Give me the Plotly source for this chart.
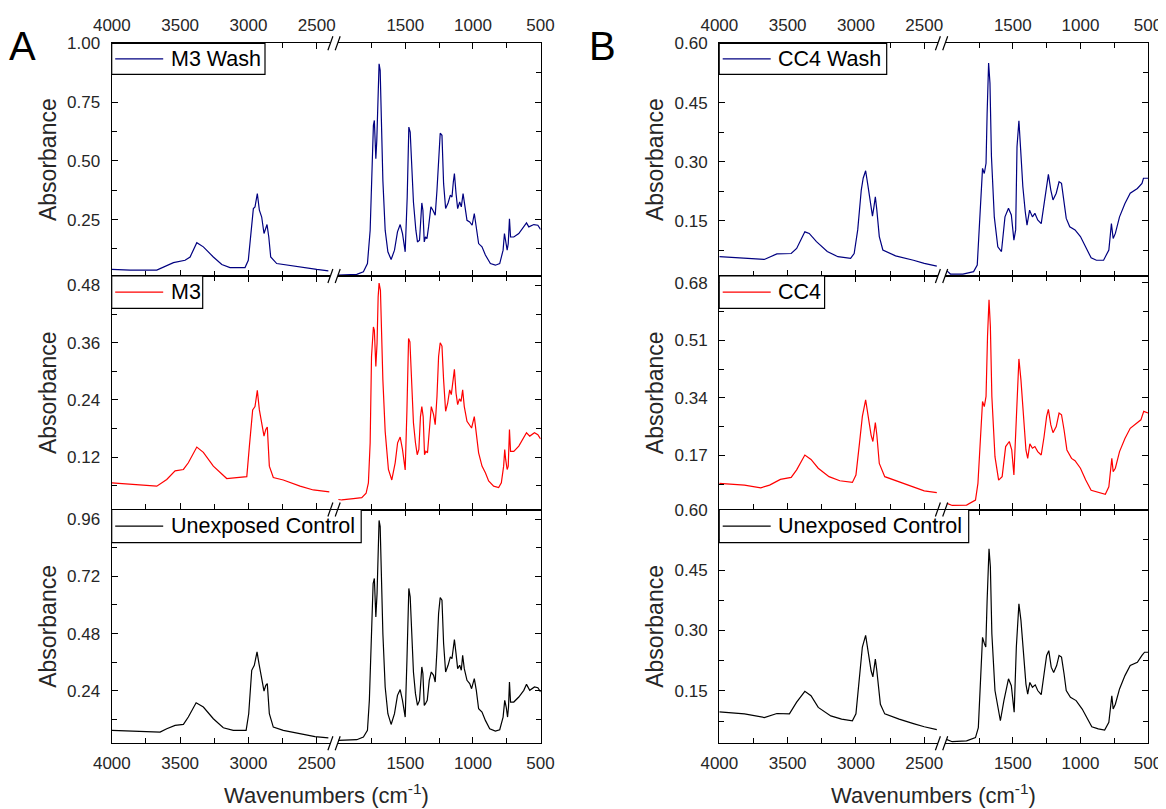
import plotly.graph_objects as go

# page body has an 8px margin; the figure is sized so that it fills the 1166x809 window
BODY = 8
W, H = 1166 - BODY, 809 - BODY

# ---------------- axis definitions (broken wavenumber axis) ----------------
HI_RANGE = [4001, 2400]
LO_RANGE = [2000, 499]
HI_TICKS = [4000, 3500, 3000, 2500]
HI_MINOR = [3750, 3250, 2750]
LO_TICKS = [1500, 1000, 500]
LO_MINOR = [1750, 1250, 750]

# ---------------- data ----------------
# Panel A
m3wash_hi_wn = [4000, 3866, 3671, 3622, 3549, 3464, 3427, 3378, 3330, 3257, 3195, 3135, 3025, 3001, 2983, 2964, 2952, 2935, 2920, 2903, 2886, 2873, 2864, 2851, 2837, 2793, 2696, 2500, 2415]
m3wash_hi_abs = [0.038, 0.035, 0.035, 0.049, 0.067, 0.077, 0.091, 0.152, 0.134, 0.091, 0.059, 0.046, 0.046, 0.077, 0.176, 0.297, 0.304, 0.361, 0.290, 0.261, 0.191, 0.212, 0.229, 0.176, 0.091, 0.063, 0.054, 0.038, 0.032]
m3wash_lo_wn = [1995, 1859, 1810, 1780, 1760, 1746, 1736, 1729, 1718, 1711, 1701, 1694, 1686, 1679, 1666, 1649, 1629, 1605, 1580, 1558, 1538, 1521, 1501, 1486, 1474, 1464, 1451, 1440, 1422, 1410, 1395, 1385, 1378, 1370, 1360, 1351, 1340, 1328, 1311, 1296, 1279, 1266, 1254, 1242, 1229, 1217, 1202, 1184, 1167, 1155, 1145, 1137, 1125, 1113, 1098, 1086, 1073, 1061, 1044, 1024, 1006, 990, 975, 958, 933, 908, 871, 834, 802, 777, 767, 760, 747, 739, 730, 722, 698, 661, 624, 604, 587, 550, 520, 500]
m3wash_lo_abs = [0.014, 0.017, 0.028, 0.063, 0.205, 0.502, 0.651, 0.672, 0.509, 0.587, 0.842, 0.913, 0.885, 0.672, 0.417, 0.205, 0.113, 0.080, 0.120, 0.198, 0.229, 0.191, 0.113, 0.346, 0.644, 0.623, 0.460, 0.325, 0.205, 0.155, 0.162, 0.261, 0.321, 0.290, 0.155, 0.176, 0.169, 0.219, 0.304, 0.290, 0.269, 0.375, 0.516, 0.618, 0.609, 0.403, 0.297, 0.321, 0.354, 0.346, 0.410, 0.446, 0.361, 0.297, 0.325, 0.304, 0.361, 0.304, 0.247, 0.240, 0.226, 0.276, 0.219, 0.148, 0.134, 0.099, 0.063, 0.056, 0.063, 0.120, 0.191, 0.162, 0.120, 0.148, 0.254, 0.176, 0.176, 0.191, 0.219, 0.236, 0.219, 0.229, 0.226, 0.208]

m3_hi_wn = [4000, 3769, 3671, 3598, 3537, 3476, 3440, 3378, 3330, 3257, 3159, 3086, 3012, 2993, 2969, 2952, 2935, 2920, 2903, 2886, 2873, 2862, 2847, 2818, 2745, 2622, 2525, 2408]
m3_hi_abs = [0.066, 0.061, 0.059, 0.073, 0.091, 0.094, 0.108, 0.141, 0.130, 0.101, 0.075, 0.077, 0.079, 0.143, 0.219, 0.226, 0.260, 0.219, 0.188, 0.164, 0.178, 0.183, 0.101, 0.077, 0.072, 0.059, 0.051, 0.047]
m3_lo_wn = [1995, 1970, 1884, 1822, 1790, 1773, 1760, 1750, 1736, 1729, 1718, 1709, 1701, 1694, 1684, 1677, 1666, 1649, 1625, 1600, 1575, 1557, 1538, 1521, 1501, 1488, 1476, 1466, 1454, 1440, 1425, 1412, 1400, 1388, 1378, 1368, 1358, 1348, 1336, 1321, 1308, 1291, 1279, 1266, 1254, 1242, 1229, 1217, 1202, 1187, 1172, 1160, 1147, 1137, 1125, 1113, 1100, 1088, 1076, 1064, 1044, 1024, 1010, 990, 975, 958, 933, 908, 884, 847, 810, 790, 773, 765, 758, 747, 739, 730, 722, 698, 661, 624, 604, 580, 545, 520, 500]
m3_lo_abs = [0.031, 0.030, 0.033, 0.035, 0.044, 0.066, 0.150, 0.331, 0.393, 0.386, 0.310, 0.359, 0.456, 0.485, 0.470, 0.373, 0.282, 0.174, 0.094, 0.072, 0.108, 0.150, 0.162, 0.136, 0.093, 0.219, 0.369, 0.362, 0.282, 0.192, 0.150, 0.125, 0.136, 0.205, 0.226, 0.205, 0.125, 0.132, 0.129, 0.192, 0.226, 0.209, 0.188, 0.247, 0.331, 0.360, 0.353, 0.282, 0.216, 0.233, 0.261, 0.251, 0.282, 0.304, 0.254, 0.230, 0.242, 0.237, 0.261, 0.226, 0.195, 0.188, 0.181, 0.205, 0.171, 0.129, 0.101, 0.087, 0.070, 0.059, 0.056, 0.066, 0.101, 0.136, 0.115, 0.094, 0.101, 0.178, 0.132, 0.132, 0.143, 0.160, 0.171, 0.164, 0.171, 0.167, 0.158]

ctrlA_hi_wn = [4000, 3842, 3647, 3598, 3537, 3476, 3440, 3383, 3330, 3257, 3184, 3111, 3017, 2998, 2976, 2957, 2937, 2923, 2903, 2886, 2873, 2862, 2847, 2818, 2745, 2622, 2513, 2415]
ctrlA_hi_abs = [0.074, 0.070, 0.067, 0.081, 0.095, 0.099, 0.130, 0.190, 0.172, 0.123, 0.085, 0.074, 0.074, 0.144, 0.326, 0.347, 0.403, 0.354, 0.284, 0.239, 0.263, 0.270, 0.144, 0.088, 0.074, 0.060, 0.048, 0.043]
ctrlA_lo_wn = [1995, 1859, 1810, 1780, 1766, 1751, 1738, 1729, 1718, 1709, 1701, 1694, 1686, 1679, 1666, 1649, 1629, 1605, 1580, 1558, 1538, 1521, 1501, 1488, 1474, 1464, 1451, 1440, 1425, 1410, 1395, 1385, 1378, 1370, 1360, 1351, 1338, 1323, 1308, 1291, 1279, 1266, 1254, 1242, 1229, 1217, 1202, 1184, 1167, 1155, 1145, 1137, 1125, 1113, 1098, 1086, 1076, 1064, 1044, 1024, 1010, 990, 975, 958, 933, 908, 876, 834, 802, 777, 765, 754, 744, 737, 730, 722, 698, 661, 624, 604, 580, 545, 520, 500]
ctrlA_lo_abs = [0.032, 0.035, 0.046, 0.074, 0.200, 0.480, 0.690, 0.711, 0.550, 0.648, 0.886, 0.954, 0.928, 0.718, 0.480, 0.256, 0.144, 0.099, 0.144, 0.221, 0.245, 0.200, 0.130, 0.368, 0.669, 0.634, 0.452, 0.319, 0.228, 0.179, 0.200, 0.298, 0.340, 0.312, 0.179, 0.186, 0.200, 0.284, 0.319, 0.305, 0.277, 0.410, 0.564, 0.631, 0.620, 0.438, 0.319, 0.347, 0.382, 0.375, 0.424, 0.455, 0.396, 0.333, 0.347, 0.326, 0.389, 0.333, 0.284, 0.270, 0.249, 0.291, 0.242, 0.165, 0.151, 0.116, 0.081, 0.071, 0.077, 0.130, 0.200, 0.172, 0.130, 0.172, 0.277, 0.193, 0.193, 0.214, 0.242, 0.267, 0.242, 0.256, 0.253, 0.235]

# Panel B
cc4wash_hi_wn = [4000, 3842, 3671, 3579, 3474, 3434, 3374, 3342, 3289, 3210, 3132, 3039, 3013, 2987, 2961, 2947, 2929, 2913, 2895, 2879, 2868, 2858, 2847, 2829, 2803, 2710, 2579, 2500, 2408]
cc4wash_hi_abs = [0.059, 0.056, 0.052, 0.066, 0.067, 0.080, 0.122, 0.118, 0.097, 0.072, 0.059, 0.055, 0.067, 0.127, 0.228, 0.258, 0.277, 0.241, 0.194, 0.162, 0.186, 0.211, 0.177, 0.110, 0.076, 0.061, 0.050, 0.042, 0.035]
cc4wash_lo_wn = [1987, 1961, 1869, 1790, 1763, 1742, 1724, 1711, 1698, 1690, 1679, 1669, 1658, 1637, 1611, 1584, 1558, 1532, 1511, 1492, 1479, 1469, 1455, 1442, 1426, 1408, 1395, 1376, 1355, 1337, 1316, 1290, 1269, 1250, 1237, 1219, 1203, 1179, 1158, 1140, 1124, 1105, 1079, 1040, 1000, 961, 921, 882, 829, 790, 771, 758, 742, 711, 671, 632, 579, 545, 534, 500]
cc4wash_lo_abs = [0.023, 0.015, 0.015, 0.021, 0.038, 0.160, 0.283, 0.270, 0.296, 0.423, 0.550, 0.499, 0.313, 0.160, 0.084, 0.072, 0.160, 0.182, 0.165, 0.101, 0.127, 0.338, 0.404, 0.330, 0.237, 0.173, 0.139, 0.177, 0.160, 0.169, 0.152, 0.143, 0.194, 0.245, 0.268, 0.228, 0.203, 0.220, 0.249, 0.245, 0.203, 0.156, 0.135, 0.127, 0.110, 0.084, 0.056, 0.050, 0.050, 0.076, 0.143, 0.105, 0.118, 0.160, 0.194, 0.220, 0.232, 0.245, 0.258, 0.258]

cc4_hi_wn = [4000, 3816, 3697, 3632, 3553, 3474, 3434, 3374, 3329, 3276, 3197, 3118, 3026, 3000, 2974, 2953, 2929, 2908, 2889, 2876, 2868, 2858, 2847, 2829, 2789, 2684, 2579, 2500, 2408]
cc4_hi_abs = [0.087, 0.082, 0.074, 0.082, 0.099, 0.105, 0.127, 0.171, 0.158, 0.132, 0.107, 0.095, 0.090, 0.112, 0.206, 0.285, 0.334, 0.275, 0.230, 0.211, 0.245, 0.267, 0.230, 0.146, 0.107, 0.092, 0.075, 0.065, 0.060]
cc4_lo_wn = [1987, 1948, 1842, 1776, 1758, 1742, 1724, 1711, 1698, 1687, 1676, 1666, 1655, 1632, 1605, 1579, 1553, 1526, 1508, 1492, 1474, 1455, 1440, 1421, 1403, 1390, 1374, 1355, 1337, 1316, 1290, 1269, 1250, 1237, 1219, 1203, 1179, 1158, 1140, 1121, 1100, 1066, 1040, 1000, 961, 921, 868, 816, 790, 768, 758, 742, 711, 671, 632, 579, 553, 532, 500]
cc4_lo_abs = [0.028, 0.022, 0.023, 0.038, 0.087, 0.206, 0.329, 0.314, 0.344, 0.522, 0.630, 0.551, 0.344, 0.166, 0.097, 0.107, 0.196, 0.211, 0.186, 0.112, 0.275, 0.455, 0.393, 0.275, 0.186, 0.161, 0.204, 0.191, 0.196, 0.181, 0.171, 0.225, 0.285, 0.306, 0.260, 0.237, 0.255, 0.295, 0.290, 0.245, 0.186, 0.161, 0.154, 0.132, 0.097, 0.067, 0.060, 0.055, 0.077, 0.161, 0.122, 0.132, 0.181, 0.220, 0.250, 0.265, 0.275, 0.300, 0.295]

ctrlB_hi_wn = [4000, 3816, 3671, 3579, 3487, 3434, 3374, 3329, 3276, 3184, 3105, 3026, 3000, 2974, 2953, 2929, 2908, 2889, 2876, 2868, 2858, 2847, 2821, 2789, 2684, 2579, 2500, 2408]
ctrlB_hi_abs = [0.098, 0.093, 0.084, 0.094, 0.093, 0.122, 0.149, 0.138, 0.109, 0.088, 0.080, 0.076, 0.093, 0.184, 0.259, 0.288, 0.242, 0.200, 0.185, 0.209, 0.229, 0.200, 0.117, 0.093, 0.080, 0.069, 0.061, 0.054]
ctrlB_lo_wn = [1987, 1948, 1842, 1776, 1755, 1742, 1724, 1711, 1700, 1690, 1676, 1666, 1655, 1632, 1592, 1566, 1532, 1511, 1490, 1474, 1455, 1440, 1421, 1403, 1390, 1374, 1355, 1334, 1316, 1290, 1269, 1250, 1234, 1216, 1198, 1176, 1158, 1140, 1121, 1105, 1074, 1032, 987, 947, 916, 868, 821, 790, 768, 758, 742, 711, 671, 632, 579, 545, 526, 500]
ctrlB_lo_abs = [0.029, 0.024, 0.026, 0.034, 0.059, 0.159, 0.283, 0.268, 0.259, 0.375, 0.503, 0.458, 0.292, 0.151, 0.076, 0.126, 0.180, 0.163, 0.097, 0.259, 0.366, 0.325, 0.242, 0.167, 0.142, 0.171, 0.159, 0.165, 0.151, 0.141, 0.192, 0.238, 0.250, 0.209, 0.196, 0.213, 0.238, 0.234, 0.192, 0.151, 0.134, 0.126, 0.105, 0.080, 0.061, 0.056, 0.053, 0.072, 0.138, 0.105, 0.117, 0.155, 0.188, 0.213, 0.221, 0.238, 0.246, 0.246]

# y-axis settings per row: (range, major ticks, minor ticks)
A_Y = [([0.01, 1.0005], [0.25, 0.50, 0.75, 1.00], [0.125, 0.375, 0.625, 0.875]),
       ([0.01, 0.5], [0.12, 0.24, 0.36, 0.48], [0.06, 0.18, 0.30, 0.42]),
       ([0.02, 1.0], [0.24, 0.48, 0.72, 0.96], [0.12, 0.36, 0.60, 0.84])]
B_Y = [([0.01, 0.6003], [0.15, 0.30, 0.45, 0.60], [0.075, 0.225, 0.375, 0.525]),
       ([0.01, 0.70], [0.17, 0.34, 0.51, 0.68], [0.085, 0.255, 0.425, 0.595]),
       ([0.02, 0.6003], [0.15, 0.30, 0.45, 0.60], [0.075, 0.225, 0.375, 0.525])]

NAVY, RED, BLACK = "#000080", "#ff0000", "#000000"

panels = [
    ("A", [("M3 Wash", NAVY, m3wash_hi_wn, m3wash_hi_abs, m3wash_lo_wn, m3wash_lo_abs),
           ("M3", RED, m3_hi_wn, m3_hi_abs, m3_lo_wn, m3_lo_abs),
           ("Unexposed Control", BLACK, ctrlA_hi_wn, ctrlA_hi_abs, ctrlA_lo_wn, ctrlA_lo_abs)], A_Y),
    ("B", [("CC4 Wash", NAVY, cc4wash_hi_wn, cc4wash_hi_abs, cc4wash_lo_wn, cc4wash_lo_abs),
           ("CC4", RED, cc4_hi_wn, cc4_hi_abs, cc4_lo_wn, cc4_lo_abs),
           ("Unexposed Control", BLACK, ctrlB_hi_wn, ctrlB_hi_abs, ctrlB_lo_wn, ctrlB_lo_abs)], B_Y),
]

# ---------------- geometry (window pixels) ----------------
X_LEFT, X_BREAK1, X_BREAK2, X_RIGHT = 111.7, 330.4, 337.7, 540.7
PANEL_OFFSET = [0.0, 607.5]
ROW_EDGES = [43.3, 276.0, 509.5, 743.3]
LEGEND_BOX_W = [[153.3, 91.0, 249.5], [167.5, 105.4, 249.5]]
LEGEND_BOX_H = [31.0, 32.3, 33.2]
FONT = "Liberation Sans, Arial, sans-serif"
TICKFONT = dict(family=FONT, size=17, color="#262626")


def fx(p):
    return (p - BODY) / W


def fy(p):
    return (H - (p - BODY)) / H


fig = go.Figure()
layout = dict(width=W, height=H, margin=dict(l=0, r=0, t=0, b=0, autoexpand=False),
              paper_bgcolor="white", plot_bgcolor="white", showlegend=False)
shapes, annotations = [], []

for p, (letter, rows, yset) in enumerate(panels):
    off = PANEL_OFFSET[p]
    for r, (name, color, hw, ha, lw, la) in enumerate(rows):
        k = p * 3 + r
        nL, nR = 2 * k + 1, 2 * k + 2
        yr, ymaj, ymin = yset[r]
        ydom = [fy(ROW_EDGES[r + 1]), fy(ROW_EDGES[r])]
        common_x = dict(showline=True, linecolor="black", linewidth=1.2, mirror="ticks",
                        ticks="inside", ticklen=6, tickwidth=1.2, tickcolor="black",
                        showgrid=False, zeroline=False, tickfont=TICKFONT, automargin=False,
                        ticklabelstandoff=4,
                        side="top" if r == 0 else "bottom", showticklabels=(r != 1))
        for n, dom, rng, tv, mv in [(nL, [fx(X_LEFT + off), fx(X_BREAK1 + off)], HI_RANGE, HI_TICKS, HI_MINOR),
                                    (nR, [fx(X_BREAK2 + off), fx(X_RIGHT + off)], LO_RANGE, LO_TICKS, LO_MINOR)]:
            layout["xaxis" if n == 1 else f"xaxis{n}"] = dict(
                common_x, domain=dom, range=rng, anchor=f"y{'' if n == 1 else n}",
                tickmode="array", tickvals=tv, ticktext=[str(v) for v in tv],
                minor=dict(tickvals=mv, ticks="inside", ticklen=5, tickwidth=1.2, tickcolor="black"))
        common_y = dict(domain=ydom, range=yr, showline=True, linecolor="black", linewidth=1.2,
                        ticks="inside", ticklen=6, tickwidth=1.2, tickcolor="black",
                        showgrid=False, zeroline=False, tickfont=TICKFONT, automargin=False,
                        tickmode="array", tickvals=ymaj, ticktext=[f"{v:.2f}" for v in ymaj],
                        minor=dict(tickvals=ymin, ticks="inside", ticklen=5, tickwidth=1.2, tickcolor="black"))
        layout["yaxis" if nL == 1 else f"yaxis{nL}"] = dict(
            common_y, anchor=f"x{'' if nL == 1 else nL}", side="left", ticklabelstandoff=7,
            title=dict(text="Absorbance", font=dict(family=FONT, size=23, color="#262626"), standoff=4))
        layout[f"yaxis{nR}"] = dict(common_y, anchor=f"x{nR}", side="right", showticklabels=False)

        fig.add_trace(go.Scatter(x=hw, y=ha, mode="lines", name=name,
                                 line=dict(color=color, width=1.2),
                                 xaxis="x" if nL == 1 else f"x{nL}", yaxis="y" if nL == 1 else f"y{nL}"))
        fig.add_trace(go.Scatter(x=lw, y=la, mode="lines", name=name,
                                 line=dict(color=color, width=1.2),
                                 xaxis=f"x{nR}", yaxis=f"y{nR}"))

        # legend box (drawn: white box, sample line, series name)
        bx0 = X_LEFT + off
        by0 = ROW_EDGES[r]
        bx1 = bx0 + LEGEND_BOX_W[p][r]
        by1 = by0 + LEGEND_BOX_H[r]
        yc = (by0 + by1) / 2
        shapes.append(dict(type="rect", xref="paper", yref="paper", x0=fx(bx0), x1=fx(bx1),
                           y0=fy(by1), y1=fy(by0), fillcolor="white",
                           line=dict(color="black", width=1.2), layer="above"))
        shapes.append(dict(type="line", xref="paper", yref="paper", x0=fx(bx0 + 3.5), x1=fx(bx0 + 51.5),
                           y0=fy(yc), y1=fy(yc), line=dict(color=color, width=1.2), layer="above"))
        annotations.append(dict(text=name, xref="paper", yref="paper", x=fx(bx0 + 57), y=fy(yc),
                                xanchor="left", yanchor="middle", showarrow=False,
                                font=dict(family=FONT, size=21.5, color="black")))

    # axis-break marks
    for yb in ROW_EDGES:
        for xc in (X_BREAK1 + off, X_BREAK2 + off):
            shapes.append(dict(type="line", xref="paper", yref="paper",
                               x0=fx(xc - 2.5), y0=fy(yb + 7), x1=fx(xc + 2.5), y1=fy(yb - 7),
                               line=dict(color="black", width=1.2)))

    annotations.append(dict(text="Wavenumbers (cm<sup>-1</sup>)", xref="paper", yref="paper",
                            x=fx((X_LEFT + X_RIGHT) / 2 + off), y=fy(794), xanchor="center", yanchor="middle",
                            showarrow=False, font=dict(family=FONT, size=22, color="#262626")))
    annotations.append(dict(text=letter, xref="paper", yref="paper",
                            x=fx(22 + (580 if p else 0)), y=fy(46), xanchor="center", yanchor="middle",
                            showarrow=False, font=dict(family=FONT, size=40, color="black")))

layout["shapes"] = shapes
layout["annotations"] = annotations
fig.update_layout(**layout)
fig.write_html("out.html")
